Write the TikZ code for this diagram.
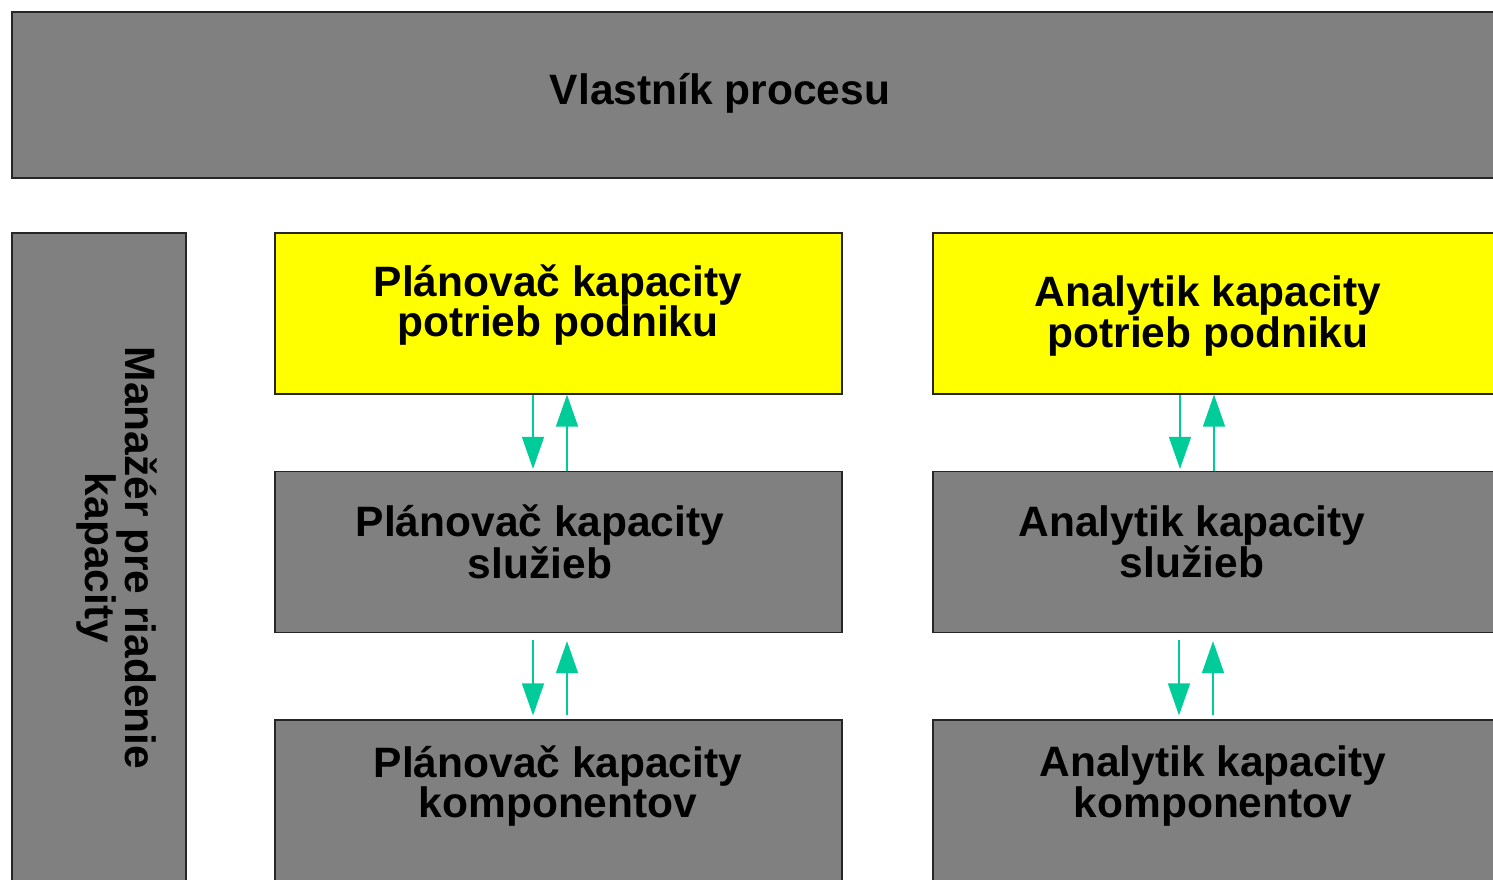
\documentclass[tikz,border=0pt]{standalone}
\usepackage{fontspec}
\setmainfont{Liberation Sans}
\usetikzlibrary{arrows.meta}
\definecolor{boxgray}{HTML}{808080}
\definecolor{boxyellow}{HTML}{FFFF00}
\definecolor{arrowgreen}{HTML}{00CC99}
\tikzset{
    %Define style for boxes
    rola/.style={
           rectangle,
           draw=black!85,
           line width=1.2pt,
           fill=boxgray,
           minimum width=567pt,
           minimum height=161pt,
           inner sep=0pt},
    %Yellow boxes
    hlavna/.style={
           rola,
           fill=boxyellow},
    % Define text style
    popis/.style={
           font=\fontsize{42.5}{39}\selectfont\bfseries,
           align=center,
           inner sep=0pt},
    % Define arrow style
    pil/.style={
           -{Triangle[width=22pt,length=32pt]},
           draw=arrowgreen,
           line width=1.4pt}
}
\begin{document}
\begin{tikzpicture}[x=1pt,y=-1pt]
  \useasboundingbox (0,0) rectangle (1493,879);
  \clip (0,0) rectangle (1493,879);
  % top and left boxes
  \node[rola,minimum width=1500pt,minimum height=166pt] (vlastnik) at (762,95) {};
  \node[popis] (vlastniklbl) at (720,93) {Vlastník procesu};
  \node[rola,minimum width=174pt,minimum height=660pt] (manazer) at (99,563) {};
  \node[popis,rotate=-90] (manazerlbl) at (117,558) {Manažér pre riadenie\\kapacity};
  % planner column
  \node[hlavna] (plan1) at (558.5,313.5) {};
  \node[rola] (plan2) at (558.5,552) {};
  \node[rola] (plan3) at (558.5,800.5) {};
  \node[popis] (plan1lbl) at (558,305) {Plánovač kapacity\\potrieb podniku};
  \node[popis] (plan2lbl) at (540,542) {Plánovač kapacity\\služieb};
  \node[popis] (plan3lbl) at (558,786) {Plánovač kapacity\\komponentov};
  % analyst column
  \node[hlavna] (anal1) at (1216.5,313.5) {};
  \node[rola] (anal2) at (1216.5,552) {};
  \node[rola] (anal3) at (1216.5,800.5) {};
  \node[popis] (anal1lbl) at (1208,316) {Analytik kapacity\\potrieb podniku};
  \node[popis] (anal2lbl) at (1192,542) {Analytik kapacity\\služieb};
  \node[popis] (anal3lbl) at (1213,786) {Analytik kapacity\\komponentov};
  % arrows
  \draw[pil] ([xshift=-25.5pt]plan1.south) -- ([xshift=-25.5pt,yshift=2pt]plan2.north);
  \draw[pil] ([xshift=8.5pt]plan2.north) -- ([xshift=8.5pt]plan1.south);
  \draw[pil] ([xshift=-25.5pt,yshift=-7pt]plan2.south) -- ([xshift=-25.5pt,yshift=4pt]plan3.north);
  \draw[pil] ([xshift=8.5pt,yshift=4pt]plan3.north) -- ([xshift=8.5pt,yshift=-8pt]plan2.south);
  \draw[pil] ([xshift=-36.5pt]anal1.south) -- ([xshift=-36.5pt,yshift=2pt]anal2.north);
  \draw[pil] ([xshift=-2.5pt]anal2.north) -- ([xshift=-2.5pt]anal1.south);
  \draw[pil] ([xshift=-37.5pt,yshift=-7pt]anal2.south) -- ([xshift=-37.5pt,yshift=4pt]anal3.north);
  \draw[pil] ([xshift=-3.5pt,yshift=4pt]anal3.north) -- ([xshift=-3.5pt,yshift=-8pt]anal2.south);
\end{tikzpicture}
\end{document}
